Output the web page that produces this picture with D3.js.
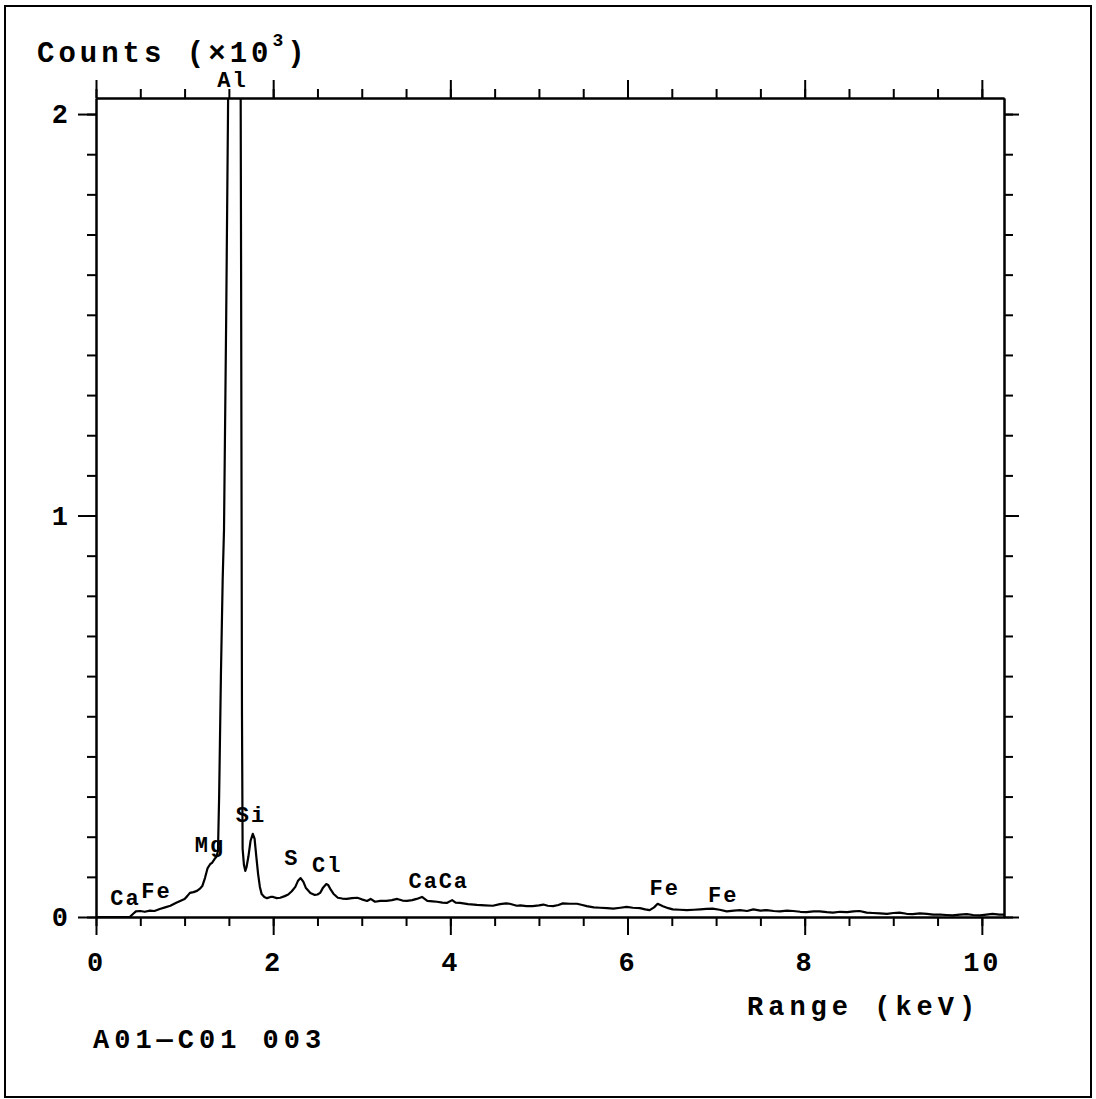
<!DOCTYPE html>
<html>
<head>
<meta charset="utf-8">
<script src="https://cdn.jsdelivr.net/npm/d3@7"></script>
<style>
  html, body { margin: 0; padding: 0; background: #fff; }
  svg text { font-family: "Liberation Mono", "DejaVu Sans Mono", monospace; font-weight: bold; fill: #000; }
</style>
</head>
<body>
<svg id="chart"></svg>
<script>
// EDS spectrum: energy in keV, counts per channel
const energy = [
  0.00, 0.38, 0.42, 0.45, 0.50, 0.55, 0.61, 0.66, 0.72, 0.78, 0.84, 0.90, 0.95, 1.00,
  1.03, 1.06, 1.10, 1.14, 1.17, 1.20, 1.23, 1.26, 1.29, 1.31, 1.34, 1.36, 1.377, 1.39,
  1.41, 1.43, 1.445, 1.47, 1.49, 1.51, 1.54, 1.57, 1.60, 1.625, 1.638, 1.648, 1.655, 1.67,
  1.685, 1.70, 1.72, 1.745, 1.77, 1.79, 1.81, 1.83, 1.85, 1.87, 1.90, 1.93, 1.97, 2.00,
  2.04, 2.08, 2.13, 2.17, 2.21, 2.25, 2.28, 2.31, 2.34, 2.37, 2.42, 2.47, 2.50, 2.53,
  2.56, 2.60, 2.62, 2.65, 2.68, 2.73, 2.78, 2.83, 2.89, 2.95, 3.00, 3.06, 3.10, 3.15,
  3.21, 3.28, 3.34, 3.40, 3.46, 3.51, 3.57, 3.62, 3.68, 3.74, 3.80, 3.85, 3.91, 3.96,
  4.02, 4.06, 4.11, 4.20, 4.30, 4.39, 4.48, 4.56, 4.63, 4.67, 4.75, 4.79, 4.86, 4.93,
  5.00, 5.05, 5.10, 5.16, 5.22, 5.27, 5.35, 5.43, 5.49, 5.54, 5.62, 5.69, 5.77, 5.84,
  5.92, 5.99, 6.06, 6.14, 6.20, 6.25, 6.30, 6.34, 6.40, 6.46, 6.51, 6.59, 6.67, 6.75,
  6.82, 6.89, 6.96, 7.04, 7.12, 7.20, 7.27, 7.35, 7.42, 7.50, 7.57, 7.65, 7.72, 7.80,
  7.87, 7.95, 8.02, 8.10, 8.17, 8.25, 8.32, 8.40, 8.48, 8.55, 8.62, 8.70, 8.77, 8.85,
  8.93, 9.00, 9.07, 9.15, 9.22, 9.30, 9.38, 9.45, 9.53, 9.60, 9.67, 9.75, 9.83, 9.90,
  9.98, 10.05, 10.12, 10.20, 10.25
];
const counts = [
  0, 0, 8, 14, 15, 13, 16, 15, 20, 24, 28, 35, 40, 45,
  52, 60, 62, 65, 70, 77, 97, 122, 132, 135, 145, 150, 165, 300,
  600, 840, 965, 1500, 2000, 2600, 4500, 6000, 5000, 2800, 1600, 500, 170, 130,
  115, 125, 150, 190, 207, 195, 150, 107, 75, 57, 50, 47, 50, 50,
  47, 48, 52, 56, 64, 75, 90, 97, 88, 72, 60, 55, 56, 60,
  72, 82, 80, 68, 58, 48, 46, 45, 47, 48, 44, 40, 45, 38,
  40, 40, 42, 45, 41, 40, 42, 45, 50, 40, 39, 38, 36, 35,
  42, 36, 35, 32, 30, 29, 28, 32, 34, 33, 28, 29, 27, 27,
  29, 31, 28, 27, 30, 34, 33, 33, 30, 27, 24, 23, 22, 21,
  23, 25, 23, 22, 19, 17, 24, 33, 27, 22, 19, 18, 17, 18,
  19, 20, 21, 18, 14, 16, 17, 15, 19, 16, 17, 15, 14, 16,
  15, 13, 12, 14, 14, 12, 11, 13, 12, 14, 15, 11, 10, 9,
  8, 10, 11, 8, 7, 9, 8, 6, 6, 5, 4, 6, 7, 5,
  4, 6, 8, 6, 6
];

// element labels: text and the (keV, counts) point they sit at
const peakNames  = ["Al", "Mg", "Si", "Ca", "Fe", "S", "Cl", "Ca", "Ca", "Fe", "Fe"];
const peakKeV    = [1.54, 1.287, 1.75, 0.333, 0.683, 2.21, 2.61, 3.70, 4.04, 6.42, 7.08];
const peakCounts = [2067, 162, 237, 30, 47, 130, 112, 72, 72, 55, 37];

const xMajor = [0, 2, 4, 6, 8, 10];
const xMinor = d3.range(0, 10.01, 0.5);
const yMajor = [0, 1000, 2000];
const yMinor = d3.range(0, 2001, 100);
const yLabels = ["0", "1", "2"];

const W = 1096, H = 1099;
const svg = d3.select("#chart").attr("width", W).attr("height", H);

svg.append("rect")
  .attr("x", 5).attr("y", 6).attr("width", 1086).attr("height", 1091)
  .attr("fill", "none").attr("stroke", "#000").attr("stroke-width", 2);

const x = d3.scaleLinear().domain([0, 10.25]).range([96, 1004]);
const y = d3.scaleLinear().domain([0, 2040]).range([917, 98]);

const [x0, x1] = x.range();
const [y0, y1] = y.range();

function styleAxis(g, showText) {
  g.selectAll("path.domain").attr("stroke", "#000").attr("stroke-width", 2);
  g.selectAll(".tick line").attr("stroke", "#000").attr("stroke-width", 2);
  if (!showText) g.selectAll(".tick text").remove();
}

// bottom
svg.append("g").attr("transform", `translate(0,${y0})`)
  .call(d3.axisBottom(x).tickValues(xMinor).tickSize(9).tickSizeOuter(0).tickFormat(""))
  .call(g => styleAxis(g, false));
const bx = svg.append("g").attr("transform", `translate(0,${y0})`)
  .call(d3.axisBottom(x).tickValues(xMajor).tickSize(18).tickSizeOuter(0).tickPadding(17).tickFormat(d3.format("d")))
  .call(g => styleAxis(g, true));
bx.selectAll(".tick text").attr("font-size", 27).attr("font-family", null).style("letter-spacing", "3px");

// top
svg.append("g").attr("transform", `translate(0,${y1})`)
  .call(d3.axisTop(x).tickValues(xMinor).tickSize(9).tickSizeOuter(0).tickFormat(""))
  .call(g => styleAxis(g, false));
svg.append("g").attr("transform", `translate(0,${y1})`)
  .call(d3.axisTop(x).tickValues(xMajor).tickSize(18).tickSizeOuter(0).tickFormat(""))
  .call(g => styleAxis(g, false));

// left
svg.append("g").attr("transform", `translate(${x0},0)`)
  .call(d3.axisLeft(y).tickValues(yMinor).tickSize(9).tickSizeOuter(0).tickFormat(""))
  .call(g => styleAxis(g, false));
const ly = svg.append("g").attr("transform", `translate(${x0},0)`)
  .call(d3.axisLeft(y).tickValues(yMajor).tickSize(18).tickSizeOuter(0).tickPadding(10)
    .tickFormat((d, i) => yLabels[i]))
  .call(g => styleAxis(g, true));
ly.selectAll(".tick text").attr("font-size", 27).attr("font-family", null);

// right
svg.append("g").attr("transform", `translate(${x1},0)`)
  .call(d3.axisRight(y).tickValues(yMinor).tickSize(9).tickSizeOuter(0).tickFormat(""))
  .call(g => styleAxis(g, false));
svg.append("g").attr("transform", `translate(${x1},0)`)
  .call(d3.axisRight(y).tickValues(yMajor).tickSize(15).tickSizeOuter(0).tickFormat(""))
  .call(g => styleAxis(g, false));

// spectrum
svg.append("clipPath").attr("id", "plotclip")
  .append("rect").attr("x", x0).attr("y", y1).attr("width", x1 - x0).attr("height", y0 - y1);

const spectrum = energy.map((e, i) => ({ e: e, c: counts[i] }));
const line = d3.line().x(d => x(d.e)).y(d => y(d.c));
svg.append("path")
  .datum(spectrum)
  .attr("d", line)
  .attr("clip-path", "url(#plotclip)")
  .attr("fill", "none")
  .attr("stroke", "#000")
  .attr("stroke-width", 2.2)
  .attr("stroke-linejoin", "round");

// peak labels
svg.selectAll("text.peak")
  .data(peakNames)
  .enter()
  .append("text")
  .attr("class", "peak")
  .attr("x", (d, i) => x(peakKeV[i]))
  .attr("y", (d, i) => y(peakCounts[i]))
  .attr("text-anchor", "middle")
  .attr("font-size", 22)
  .style("letter-spacing", "2px")
  .text(d => d);

// titles
const title = svg.append("text")
  .attr("x", 37).attr("y", 62)
  .attr("font-size", 29)
  .style("letter-spacing", "4px");
title.append("tspan").text("Counts (\u00d710");
title.append("tspan").attr("dy", -16).attr("font-size", 18).text("3");
title.append("tspan").attr("dy", 16).text(")");

svg.append("text")
  .attr("x", 747).attr("y", 1015)
  .attr("font-size", 27)
  .style("letter-spacing", "5px")
  .text("Range (keV)");

svg.append("text")
  .attr("x", 93).attr("y", 1048)
  .attr("font-size", 27)
  .style("letter-spacing", "5px")
  .text("A01\u2014C01 003");
</script>
</body>
</html>
